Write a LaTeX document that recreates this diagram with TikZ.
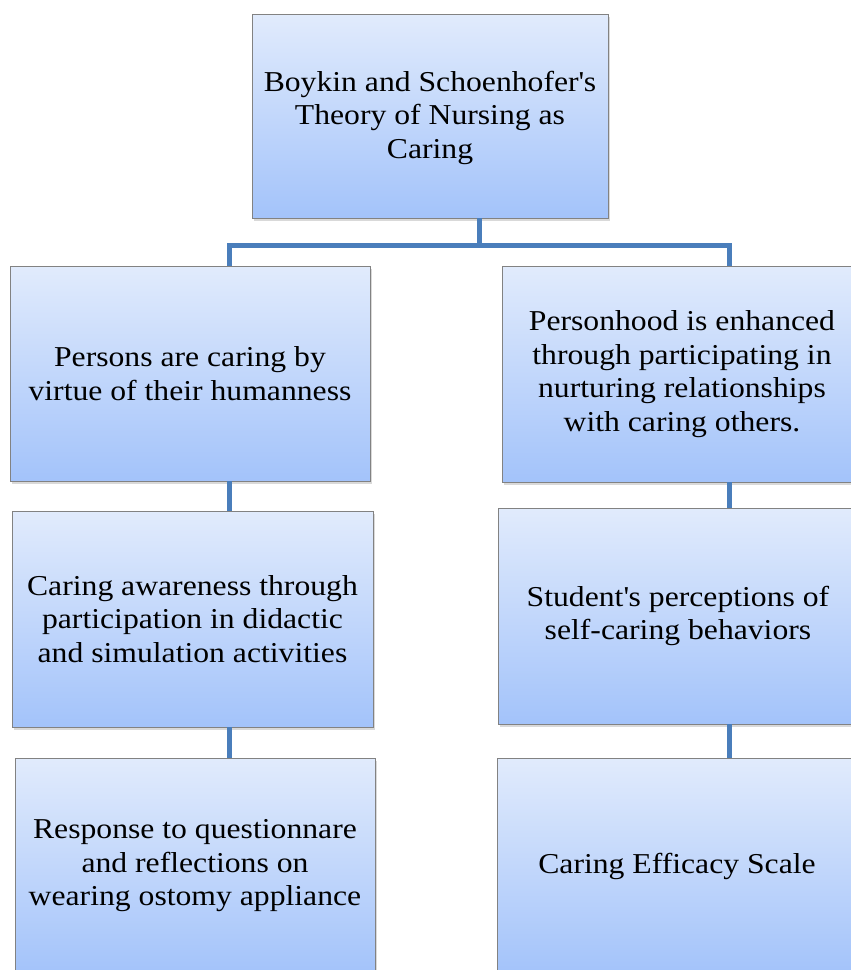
\documentclass[tikz,border=0pt]{standalone}
\usepackage{fontspec}
\setmainfont{Liberation Serif}[FakeStretch=1.1]
\usepackage{tikz}
\usetikzlibrary{positioning,shadows}

\definecolor{boxtop}{RGB}{225,235,252}
\definecolor{boxbot}{RGB}{163,195,250}
\definecolor{boxline}{RGB}{130,130,130}
\definecolor{linkblue}{RGB}{74,126,187}

\tikzset{
  box/.style={rectangle, draw=boxline, line width=0.8pt, top color=boxtop, bottom color=boxbot,
    inner sep=0pt, align=center, font=\fontsize{28.8}{33.5}\selectfont,
    drop shadow={shadow xshift=1.5pt, shadow yshift=-3pt, opacity=0.3}},
  link/.style={draw=linkblue, line width=5pt, line join=miter}
}

\begin{document}
\begin{tikzpicture}[x=1pt, y=1pt]
            \useasboundingbox (0,0) rectangle (851,-970);

            \node[box, minimum width=356, minimum height=204] (top) at (430,-116) {\strut Boykin and Schoenhofer\textquotesingle s\\Theory of Nursing as\\Caring};
            \node[box, minimum width=360, minimum height=215] (l1) at (190,-373.5) {Persons are caring by\\virtue of their humanness};
            \node[box, minimum width=360, minimum height=216] (r1) at (682,-374) {Personhood is enhanced\\through participating in\\nurturing relationships\\with caring others.};
            \node[box, minimum width=361, minimum height=216] (l2) at (192.5,-619) {Caring awareness through\\participation in didactic\\and simulation activities};
            \node[box, minimum width=360, minimum height=216] (r2) at (678,-616) {Student\textquotesingle s perceptions of\\self-caring behaviors};
            \node[box, minimum width=360, minimum height=216] (l3) at (195,-866) {Response to questionnare\\and reflections on\\wearing ostomy appliance};
            \node[box, minimum width=360, minimum height=216] (r3) at (677,-866) {Caring Efficacy Scale};

            \coordinate (hub) at (479,-245.5);
            \coordinate (lj) at (229,-245.5);
            \coordinate (rj) at (729,-245.5);

            \draw[link] (top.south -| hub) -- (hub);
            \draw[link] (l1.north -| lj) -- (lj) -- (rj) -- (r1.north -| rj);
            \draw[link] (l1.south -| lj) -- (l2.north -| lj);
            \draw[link] (l2.south -| lj) -- (l3.north -| lj);
            \draw[link] (r1.south -| rj) -- (r2.north -| rj);
            \draw[link] (r2.south -| rj) -- (r3.north -| rj);
        \end{tikzpicture}
\end{document}
